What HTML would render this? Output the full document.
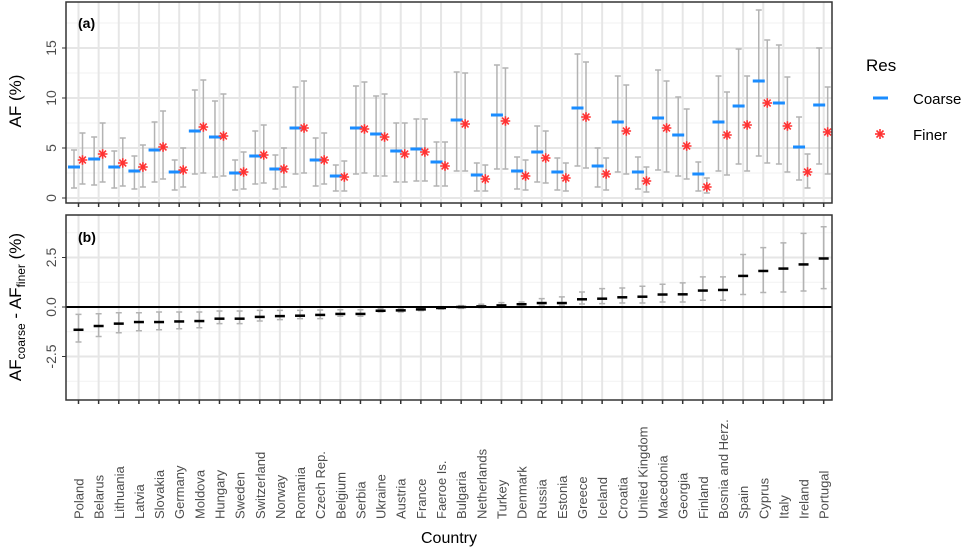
<!DOCTYPE html>
<html><head><meta charset="utf-8"><style>
body{margin:0;background:#fff;}
svg{display:block;font-family:"Liberation Sans",sans-serif;}
</style></head><body>
<svg id="chart" width="972" height="547" viewBox="0 0 972 547" xmlns="http://www.w3.org/2000/svg">
<g id="pa"></g>
<g id="pb"></g>
<g id="xl"></g>
<text x="78" y="28" font-size="14" font-weight="bold" fill="#000">(a)</text>
<text x="78" y="242" font-size="14" font-weight="bold" fill="#000">(b)</text>
<text transform="translate(21,101) rotate(-90)" text-anchor="middle" font-size="17" fill="#000">AF (%)</text>
<text transform="translate(21,307) rotate(-90)" text-anchor="middle" font-size="17" fill="#000">AF<tspan font-size="12" dy="4">coarse</tspan><tspan dy="-4"> - AF</tspan><tspan font-size="12" dy="4">finer</tspan><tspan dy="-4"> (%)</tspan></text>
<text x="449" y="543" text-anchor="middle" font-size="16" fill="#000">Country</text>
<g>
<text x="866" y="71" font-size="17" fill="#000">Res</text>
<line x1="873" y1="98" x2="888" y2="98" stroke="#1a8cff" stroke-width="3"/>
<text x="913" y="104" font-size="15" fill="#000">Coarse</text>
<g stroke="#ff3333" stroke-width="1.6"><line x1="880" y1="129" x2="880" y2="139"/><line x1="875" y1="134" x2="885" y2="134"/><line x1="876.5" y1="130.5" x2="883.5" y2="137.5"/><line x1="883.5" y1="130.5" x2="876.5" y2="137.5"/></g>
<text x="913" y="140" font-size="15" fill="#000">Finer</text>
</g>
</svg>
<script>
const countries=["Poland","Belarus","Lithuania","Latvia","Slovakia","Germany","Moldova","Hungary","Sweden","Switzerland","Norway","Romania","Czech Rep.","Belgium","Serbia","Ukraine","Austria","France","Faeroe Is.","Bulgaria","Netherlands","Turkey","Denmark","Russia","Estonia","Greece","Iceland","Croatia","United Kingdom","Macedonia","Georgia","Finland","Bosnia and Herz.","Spain","Cyprus","Italy","Ireland","Portugal"];
const coarse=[3.1,3.9,3.1,2.7,4.8,2.6,6.7,6.1,2.5,4.2,2.9,7.0,3.8,2.2,7.0,6.4,4.7,4.9,3.6,7.8,2.3,8.3,2.7,4.6,2.6,9.0,3.2,7.6,2.6,8.0,6.3,2.4,7.6,9.2,11.7,9.5,5.1,9.3];
const coarseLo=[1.0,1.3,1.0,0.9,1.6,0.8,2.4,2.1,0.8,1.4,0.9,2.4,1.2,0.7,2.4,2.2,1.6,1.7,1.2,2.7,0.7,2.9,0.9,1.6,0.8,3.2,1.1,2.6,0.9,2.8,2.2,0.7,2.7,3.4,4.2,3.4,1.8,3.4];
const coarseHi=[4.8,6.1,4.7,4.2,7.6,3.8,10.8,9.7,3.8,6.7,4.3,11.1,6.0,3.3,11.2,10.2,7.5,7.9,5.6,12.6,3.5,13.3,4.1,7.2,4.0,14.4,5.0,12.2,4.1,12.8,10.1,3.6,12.2,14.9,18.8,15.3,8.1,15.0];
const finer=[3.8,4.4,3.5,3.1,5.1,2.8,7.1,6.2,2.6,4.3,2.9,7.0,3.8,2.1,6.9,6.1,4.4,4.6,3.2,7.4,1.9,7.7,2.2,4.0,2.0,8.1,2.4,6.7,1.7,7.0,5.2,1.1,6.3,7.3,9.5,7.2,2.6,6.6];
const finerLo=[1.4,1.6,1.2,1.1,1.9,1.1,2.5,2.2,0.9,1.5,1.1,2.5,1.4,0.7,2.5,2.2,1.6,1.7,1.2,2.7,0.7,2.9,0.8,1.5,0.7,3.0,0.8,2.4,0.6,2.6,1.9,0.5,2.3,2.7,3.5,2.6,1.0,2.4];
const finerHi=[6.5,7.5,6.0,5.3,8.7,5.0,11.8,10.4,4.6,7.3,5.0,11.7,6.5,3.7,11.6,10.4,7.5,7.9,5.6,12.5,3.3,13.0,3.8,6.7,3.5,13.6,4.0,11.3,3.1,11.7,8.9,2.0,10.6,12.2,15.8,12.1,4.4,11.1];
const diff=[-1.15,-0.96,-0.84,-0.76,-0.76,-0.73,-0.71,-0.59,-0.59,-0.5,-0.46,-0.44,-0.4,-0.35,-0.35,-0.19,-0.17,-0.12,-0.05,0.0,0.03,0.08,0.14,0.2,0.2,0.39,0.42,0.49,0.52,0.63,0.64,0.83,0.86,1.57,1.82,1.94,2.15,2.45];
const diffLo=[-1.77,-1.49,-1.3,-1.2,-1.15,-1.1,-1.05,-0.84,-0.84,-0.71,-0.64,-0.59,-0.59,-0.47,-0.47,-0.25,-0.25,-0.18,-0.1,-0.07,-0.03,0.0,0.03,0.09,0.09,0.15,0.17,0.2,0.2,0.25,0.25,0.34,0.34,0.63,0.73,0.76,0.81,0.93];
const diffHi=[-0.37,-0.34,-0.29,-0.29,-0.25,-0.25,-0.25,-0.2,-0.2,-0.17,-0.17,-0.17,-0.15,-0.14,-0.14,-0.08,-0.07,-0.03,0.02,0.07,0.14,0.22,0.25,0.42,0.51,0.76,0.93,0.96,1.05,1.15,1.22,1.52,1.52,2.65,3.0,3.24,3.72,4.05];
const ticksA=[0,5,10,15];
const ticksB=[-2.5,0,2.5];
const tickLabelsB=["-2.5","0.0","2.5"];

const NS="http://www.w3.org/2000/svg";
const L=66,R=832;
const xs=i=>78.5+i*20.14;
const yA=v=>198-10*v;
const yB=v=>307-19.8*v;
function mk(p,tag,at){const e=document.createElementNS(NS,tag);for(const k in at)e.setAttribute(k,at[k]);p.appendChild(e);return e;}
const pa=document.getElementById('pa'),pb=document.getElementById('pb'),xl=document.getElementById('xl');

function panel(g,top,bot,yf,majors,minors,labels){
  mk(g,'rect',{x:L,y:top,width:R-L,height:bot-top,fill:'#fff'});
  minors.forEach(v=>{const l=mk(g,'line',{x1:L,x2:R,y1:yf(v),y2:yf(v),stroke:'#f2f2f2','stroke-width':1});});
  majors.forEach((v,k)=>{
    const l=mk(g,'line',{x1:L,x2:R,y1:yf(v),y2:yf(v),stroke:'#e6e6e6','stroke-width':2});
    
    
    mk(g,'line',{x1:L-4,x2:L,y1:yf(v),y2:yf(v),stroke:'#333','stroke-width':1});
    const t=mk(g,'text',{transform:`translate(${L-10},${yf(v)}) rotate(-90)`,'text-anchor':'middle','font-size':14,fill:'#4d4d4d'});
    t.textContent=labels[k];
    
    
  });
  countries.forEach((c,i)=>{
    const l=mk(g,'line',{x1:xs(i),x2:xs(i),y1:top,y2:bot,stroke:'#e6e6e6','stroke-width':2});
    
    
    mk(g,'line',{x1:xs(i),x2:xs(i),y1:bot,y2:bot+4,stroke:'#333','stroke-width':1.5});
  });
}
panel(pa,2,203,yA,ticksA,[2.5,7.5,12.5,17.5],ticksA.map(String));
panel(pb,215,400,yB,ticksB,[-3.75,-1.25,1.25,3.75],tickLabelsB);

function ebar(g,x,lo,hi,yf,nm){
  const e=mk(g,'path',{d:`M${x-3},${yf(hi)}H${x+3}M${x},${yf(hi)}V${yf(lo)}M${x-3},${yf(lo)}H${x+3}`,stroke:'#b3b3b3','stroke-width':1.5,fill:'none'});
  
  
}
countries.forEach((c,i)=>{
  const xc=xs(i)-4.5,xf=xs(i)+4;
  ebar(pa,xc,coarseLo[i],coarseHi[i],yA,'coarse-error-bar');
  ebar(pa,xf,finerLo[i],finerHi[i],yA,'finer-error-bar');
  const d=mk(pa,'line',{x1:xc-6,x2:xc+6,y1:yA(coarse[i]),y2:yA(coarse[i]),stroke:'#1a8cff','stroke-width':3});
  
  
  const y=yA(finer[i]);
  const s=mk(pa,'path',{d:`M${xf},${y-4.8}V${y+4.8}M${xf-4.8},${y}H${xf+4.8}M${xf-3.4},${y-3.4}L${xf+3.4},${y+3.4}M${xf+3.4},${y-3.4}L${xf-3.4},${y+3.4}`,stroke:'#ff3333','stroke-width':1.6,fill:'none'});
  
  
  ebar(pb,xs(i),diffLo[i],diffHi[i],yB,'diff-error-bar');
  const t=mk(xl,'text',{transform:`translate(${xs(i)+5},519) rotate(-90)`,'font-size':13,fill:'#4d4d4d'});
  t.textContent=c;
  
  
});
const z=mk(pb,'line',{x1:L,x2:R,y1:yB(0),y2:yB(0),stroke:'#000','stroke-width':2});


countries.forEach((c,i)=>{
  const d=mk(pb,'line',{x1:xs(i)-5,x2:xs(i)+5,y1:yB(diff[i]),y2:yB(diff[i]),stroke:'#000','stroke-width':2.5});
  
  
});
[[pa,2,203],[pb,215,400]].forEach(([g,t,b])=>{const r=mk(g,'rect',{x:L,y:t,width:R-L,height:b-t,fill:'none',stroke:'#333','stroke-width':1.5});});
</script>
</body></html>
